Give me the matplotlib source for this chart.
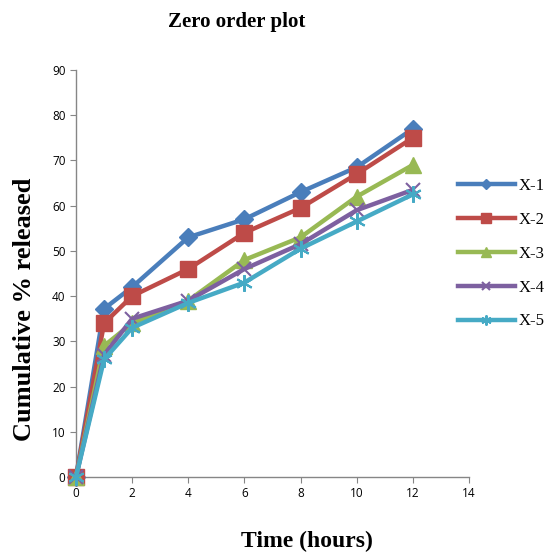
import matplotlib
matplotlib.use("Agg")
import matplotlib.pyplot as plt

time = [0, 1, 2, 4, 6, 8, 10, 12]
x1 = [0, 37.2, 42, 53, 57, 63, 68.5, 77]
x2 = [0, 34, 40, 46, 54, 59.5, 67, 75]
x3 = [0, 29, 34, 39, 48, 53, 62, 69]
x4 = [0, 27, 35, 39, 46, 51.5, 59, 63.5]
x5 = [0, 26, 33, 38.5, 43, 50.5, 56.5, 62.5]
labels = ["X-1", "X-2", "X-3", "X-4", "X-5"]
series = [x1, x2, x3, x4, x5]
colors = ["#4A7EBB", "#BE4B48", "#98B954", "#7D60A0", "#46AAC5"]
markers = ["D", "s", "^", "x", (6, 2, 0)]
msizes = [9, 12, 11, 10, 12]

fig = plt.figure(figsize=(5.47, 5.52), dpi=100)
ax = fig.add_axes([76/547, 1-477/552, (469-76)/547, (477-70)/552])

for y, lab, c, m, ms in zip(series, labels, colors, markers, msizes):
    ax.plot(time, y, color=c, lw=3.2, marker=m, markersize=ms,
            markeredgecolor=c, markeredgewidth=1.5 if m in ("x", (6, 2, 0)) else 1,
            label=lab, clip_on=False, zorder=3)

ax.set_xlim(0, 14)
ax.set_ylim(0, 90)
ax.set_xticks(range(0, 15, 2))
ax.set_yticks(range(0, 91, 10))
for s in ["top", "right"]:
    ax.spines[s].set_visible(False)
for s in ["left", "bottom"]:
    ax.spines[s].set_color("#868686")
    ax.spines[s].set_linewidth(1)
ax.tick_params(axis="both", colors="#868686", labelcolor="black", labelsize=8.5,
               length=4, direction="out")
for lbl in ax.get_xticklabels() + ax.get_yticklabels():
    lbl.set_family("Open Sans")

fig.text(237/547, 1-22/552, "Zero order plot", ha="center", va="center",
         family="Liberation Serif", fontweight="bold", fontsize=15)
fig.text(25/547, 1-309/552, "Cumulative % released", ha="center", va="center",
         rotation=90, family="Liberation Serif", fontweight="bold", fontsize=19)
fig.text(307/547, 1-541/552, "Time (hours)", ha="center", va="center",
         family="Liberation Serif", fontweight="bold", fontsize=17)

leg = fig.legend(loc="upper left", bbox_to_anchor=(443/547, 1-163/552), frameon=False,
                 prop={"family": "Liberation Serif", "size": 12},
                 handlelength=3.4, labelspacing=1.07, handletextpad=0.25,
                 markerscale=0.6)

fig.savefig("out.png", dpi=100)
